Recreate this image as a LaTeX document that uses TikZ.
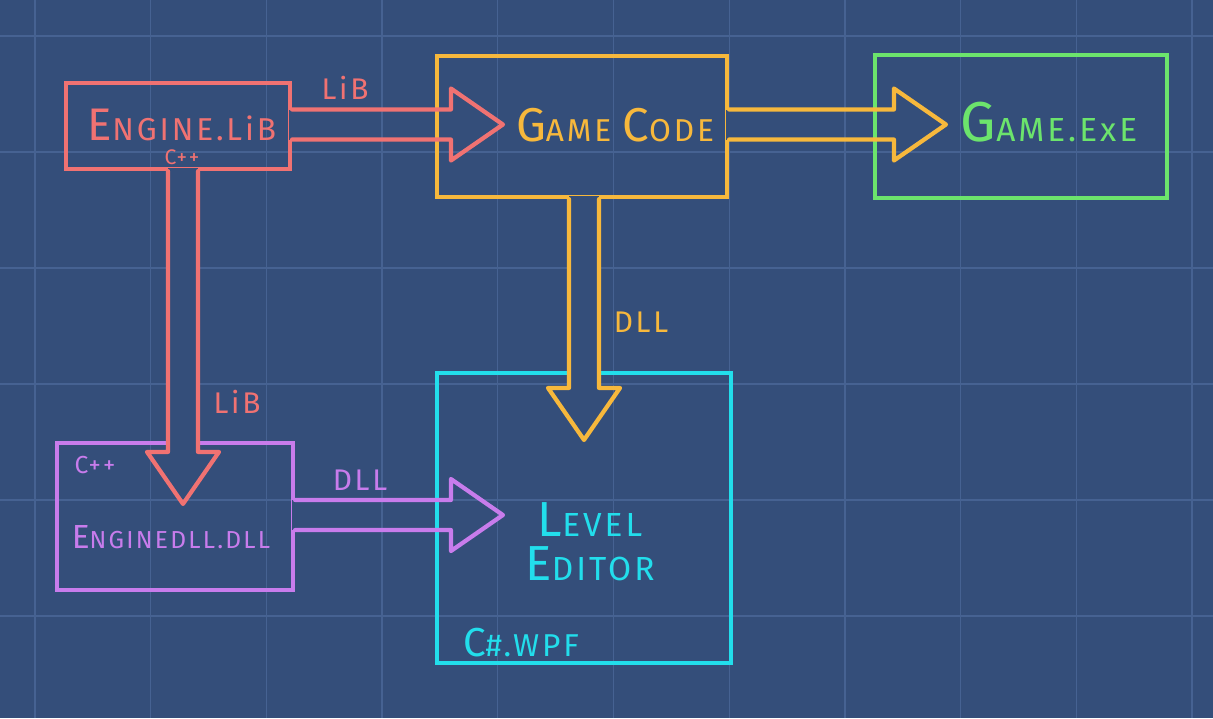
\documentclass[tikz,border=0pt]{standalone}
\usepackage{fontspec}
\setmainfont{Fira Sans}
\newfontfamily\handfont[LetterSpace=9]{Fira Sans}
\usetikzlibrary{calc}

\definecolor{bgblue}{RGB}{52,78,122}
\definecolor{gridblue}{RGB}{70,98,146}
\definecolor{libred}{RGB}{240,114,114}
\definecolor{codeorange}{RGB}{247,184,60}
\definecolor{exegreen}{RGB}{108,228,108}
\definecolor{editorcyan}{RGB}{34,222,236}
\definecolor{dllpurple}{RGB}{200,124,236}

% first letter bigger, rest in caps
\newcommand{\capw}[3]{{\fontsize{#3}{#3}\selectfont #1}#2}

% block arrow pointing right: colour, tail, tip
\newcommand{\rightblock}[3]{%
  \fill[bgblue] ($(#2)+(-3,-15)$) rectangle ($(#2)+(3,15)$);
  \draw[blockline, #1] ($(#2)+(0,-15)$) -- ($(#3)+(-52,-15)$) -- ++(0,-21) -- (#3)
    -- ($(#3)+(-52,36)$) -- ++(0,-21) -- ($(#2)+(0,15)$);
}
% block arrow pointing down: colour, tail, tip
\newcommand{\downblock}[3]{%
  \fill[bgblue] ($(#2)+(-15,-3)$) rectangle ($(#3)+(15,-52)$);
  \draw[blockline, #1] ($(#2)+(-15,0)$) -- ($(#3)+(-15,-52)$) -- ++(-21,0) -- (#3)
    -- ($(#3)+(36,-52)$) -- ++(-21,0) -- ($(#2)+(15,0)$);
}

\begin{document}
\begin{tikzpicture}[x=0.02cm, y=-0.02cm,
    box/.style={draw, rectangle, line width=2.4pt, inner sep=0pt},
    blockline/.style={line width=2.4pt, line join=round, line cap=round},
    title/.style={font=\handfont\fontsize{18}{21}\selectfont, inner sep=0pt},
    tag/.style={font=\handfont\fontsize{17}{18}\selectfont, inner sep=0pt}]
    % Background and grid
    \useasboundingbox (0,0) rectangle (1213,718);
    \fill[bgblue] (0,0) rectangle (1213,718);
    \foreach \i in {0,...,10}
        \draw[gridblue, line width=0.7pt] ({35+115.7*\i},0) -- ++(0,718);
    \foreach \j in {0,...,6}
        \draw[gridblue, line width=0.7pt] (0,{36+116*\j}) -- ++(1213,0);

    % Boxes
    \node (englib) [box, draw=libred, minimum width=4.48cm, minimum height=1.72cm] at (178,126) {};
    \node (gamecode) [box, draw=codeorange, minimum width=5.8cm, minimum height=2.82cm] at (582,126.5) {};
    \node (gameexe) [box, draw=exegreen, minimum width=5.84cm, minimum height=2.86cm] at (1021,126.5) {};
    \node (editor) [box, draw=editorcyan, minimum width=5.88cm, minimum height=5.8cm] at (584,518) {};
    \node (enginedll) [box, draw=dllpurple, minimum width=4.72cm, minimum height=2.94cm] at (175,516.5) {};

    % Arrow tips
    \coordinate (libtip) at ($(gamecode.west)+(68,-2)$);
    \coordinate (exetip) at ($(gameexe.west)+(73,-2)$);
    \coordinate (dlltip) at ($(enginedll.north)+(8,63)$);
    \coordinate (editortip) at ($(editor.north)+(0,69)$);
    \coordinate (wpftip) at ($(editor.west)+(68,-3)$);

    % Block arrows
    \rightblock{libred}{englib.east |- libtip}{libtip}
    \rightblock{codeorange}{gamecode.east |- exetip}{exetip}
    \downblock{libred}{dlltip |- englib.south}{dlltip}
    \downblock{codeorange}{editortip |- gamecode.south}{editortip}
    \rightblock{dllpurple}{enginedll.east |- wpftip}{wpftip}

    % Texts
    \node (englibtxt) [title, text=libred] at (182,125) {\capw{E}{NGINE.LiB}{26}};
    \node (englibcpp) [tag, text=libred, font=\handfont\fontsize{12}{13}\selectfont] at (182,157) {C++};
    \node (gamecodetxt) [title, text=codeorange] at (615,125) {\capw{G}{AME }{27}\capw{C}{ODE}{27}};
    \node (gameexetxt) [title, text=exegreen, font=\handfont\fontsize{19}{21}\selectfont] at (1049,122) {\capw{G}{AME.ExE}{32}};
    \node (editortxt) [title, text=editorcyan, font=\handfont\fontsize{19}{21}\selectfont, align=center] at (590,542) {\capw{L}{EVEL}{28}\\[4pt]\capw{E}{DITOR}{28}};
    \node (editorwpf) [tag, text=editorcyan, font=\handfont\fontsize{18}{19}\selectfont] at (521,643) {\capw{C}{\#.WPF}{23}};
    \node (enginedlltxt) [tag, text=dllpurple, font=\handfont\fontsize{14}{16}\selectfont] at (171,537) {\capw{E}{NGINEDLL.DLL}{19}};
    \node (enginedllcpp) [tag, text=dllpurple, font=\handfont\fontsize{14}{15}\selectfont] at (95,465) {C++};

    % Arrow labels
    \node (liblabel1) [tag, text=libred] at (345,88) {LiB};
    \node (liblabel2) [tag, text=libred] at (237,402) {LiB};
    \node (dlllabel1) [tag, text=codeorange] at (641,322) {DLL};
    \node (dlllabel2) [tag, text=dllpurple] at (360,480) {DLL};
\end{tikzpicture}
\end{document}
